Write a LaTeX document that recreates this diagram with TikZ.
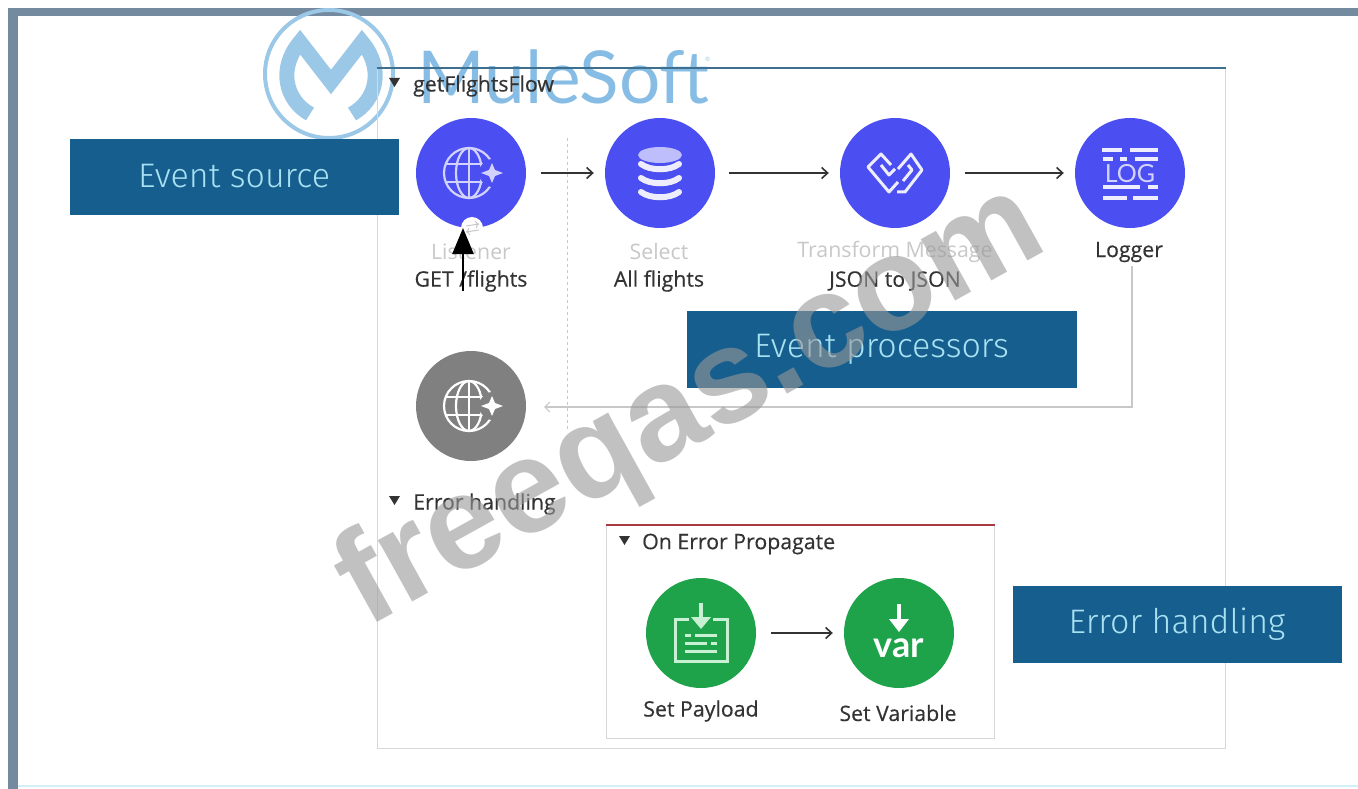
\documentclass[tikz,border=0pt]{standalone}
\usepackage{fontspec}
\setmainfont{Open Sans}
\newfontfamily\labfont[FakeBold=0.4]{Open Sans}
\newfontfamily\logofont{Lato}
\newfontfamily\boxfont{Fira Sans Light}
\newfontfamily\markfont{Liberation Sans}
\usetikzlibrary{arrows.meta,calc}
\definecolor{barc}{HTML}{748A9E}
\definecolor{boxc}{HTML}{155E8E}
\definecolor{boxt}{HTML}{A8E2F2}
\definecolor{purp}{HTML}{4B4EF0}
\definecolor{purpl}{HTML}{D2D2FF}
\definecolor{grn}{HTML}{1FA34A}
\definecolor{grnl}{HTML}{C8F0D2}
\definecolor{gry}{HTML}{808080}
\definecolor{ink}{HTML}{333333}
\definecolor{muted}{HTML}{C8C8C8}
\definecolor{frame}{HTML}{D4D8DA}
\definecolor{flowtop}{HTML}{3F6F8F}
\definecolor{redtop}{HTML}{A83A44}
\definecolor{logol}{HTML}{9CC8E8}
\definecolor{logot}{HTML}{5FA8DC}
\tikzset{
  callout/.style={fill=boxc,draw=boxc,minimum width=328pt,minimum height=75pt,inner sep=0pt,text=boxt,font=\boxfont\fontsize{34}{36}\selectfont},
  proc/.style={circle,fill=purp,minimum size=110pt,inner sep=0pt},
  greyproc/.style={circle,fill=gry,minimum size=110pt,inner sep=0pt},
  setter/.style={circle,fill=grn,minimum size=110pt,inner sep=0pt},
  lab/.style={text=ink,font=\labfont\fontsize{21.3}{23}\selectfont,inner sep=0pt},
  mutedlab/.style={text=muted,font=\fontsize{21.3}{23}\selectfont,inner sep=0pt},
  flow/.style={draw=ink,line width=1.5pt,-{Straight Barb[length=6pt,width=11pt,line width=1.6pt]}},
  globe/.pic={
    \begin{scope}[pic actions,line width=2.2pt]
      \draw (-2,0) circle (25);
      \draw (-2,0) ellipse (13 and 25);
      \draw (-2,-25) -- (-2,25);
      \draw (-25,-9) -- (21,-9);
      \draw (-25,9) -- (21,9);
    \end{scope}
    \fill[pic actions,draw=none] (22,0) circle (14);
  },
}
\begin{document}
\begin{tikzpicture}[x=1pt,y=-1pt]
\useasboundingbox (0,0) rectangle (1358,789);
\fill[white] (0,0) rectangle (1358,789);
\fill[barc] (8,8) rectangle (1358,16);
\fill[barc] (8,8) rectangle (18,789);
\fill[boxt!50] (18,785) rectangle (1358,787);

% logo under the flow
\node[draw=logol,line width=4pt,circle,minimum size=128pt,inner sep=0pt] (logoring) at (329,74) {};
\draw[logol,line width=15pt,line join=miter] (310,114) .. controls (285,100) and (278,68) .. (300,42) -- (331,82) -- (362,42) .. controls (384,68) and (377,100) .. (352,114);
\node[anchor=base west,inner sep=0pt,text=logot,opacity=.75,font=\logofont\fontsize{73}{80}\selectfont] (logotext) at (417,104) {MuleSoft};
\node[anchor=west,inner sep=0pt,text=logol,font=\fontsize{6}{7}\selectfont] (logoreg) at (705,59) {®};

% flow frame
\node[draw=frame,line width=1.2pt,minimum width=848pt,minimum height=680pt,anchor=north west,inner sep=0pt] (flowframe) at (377,68) {};
\draw[flowtop,line width=2pt] (flowframe.north west) -- (flowframe.north east);
\fill[ink] (389,78) -- (400,78) -- (394.5,87) -- cycle;
\node[lab,anchor=west] (flowname) at (413,86) {getFlightsFlow};

% divider
\coordinate (divtop) at (567,138);
\coordinate (divbot) at (567,432);
\draw[muted,line width=1pt,dash pattern=on 3pt off 3pt] (divtop) -- (divbot);

% processors
\node[proc] (listener) at (471,173) {};
\node[proc] (select) at (660,173) {};
\node[proc] (transform) at (895,173) {};
\node[proc] (logger) at (1130,173) {};
\node[greyproc] (response) at (471,406) {};

% listener notch
\node[circle,fill=white,minimum size=22pt,inner sep=0pt] (notch) at (472,228) {};
\draw[muted,line width=1pt,->] (466,226) -- (479,224);
\draw[muted,line width=1pt,->] (479,230) -- (466,232);

% globes
\pic[draw=purpl,fill=purp] at (471,173) {globe};
\fill[purpl] (492,163) -- (495,170) -- (503,173) -- (495,176) -- (492,183) -- (489,176) -- (481,173) -- (489,170) -- cycle;
\pic[draw=white,fill=gry] at (471,406) {globe};
\fill[white] (492,396) -- (495,403) -- (503,406) -- (495,409) -- (492,416) -- (489,409) -- (481,406) -- (489,403) -- cycle;

% database icon
\begin{scope}[shift={(660,173)}]
  \fill[purpl!85!purp] (0,-18) ellipse (22 and 8);
  \foreach \yy in {-5,9,23}{
    \draw[white!90!purp,line width=6pt,line cap=round] (-19,\yy-4) .. controls (-10,\yy+3) and (10,\yy+3) .. (19,\yy-4);
  }
\end{scope}

% transform icon
\begin{scope}[shift={(895,173)},draw=white!90!purp,line width=3pt,line join=round]
  \draw (-4,-8) -- (-14,-19) -- (-27,-6) -- (-6,19) -- (3,9);
  \draw (-14,-8) -- (-6,2) -- (0,-4);
  \draw (2,19) -- (10,19) -- (27,-3) -- (16,-19) -- (3,-4);
  \draw (8,8) -- (17,-3) -- (13,-8);
\end{scope}

% log icon
\begin{scope}[shift={(1130,173)},line width=4pt]
  \foreach \xa/\xb/\yy in {-28/-8/-23,0/28/-23,-27/-17/-14,-10/-3/-14,5/28/-14,-27/10/14,18/28/14,-27/-3/25,3/28/25}{
    \draw[draw=white!90!purp] (\xa,\yy) -- (\xb,\yy);
  }
  \node[inner sep=0pt,text=purpl,font=\logofont\fontsize{25}{26}\selectfont] (logtext) at (0,1) {LOG};
\end{scope}

% setters
\node[setter] (payload) at (701,633) {};
\node[setter] (variable) at (899,633) {};
\begin{scope}[shift={(701,633)},draw=grnl,fill=grnl,line width=3pt]
  \draw (-12,-14) -- (-26,-14) -- (-26,28) -- (26,28) -- (26,-14) -- (12,-14);
  \draw[line width=4pt] (0,-30) -- (0,-14);
  \fill (-10,-16) -- (10,-16) -- (0,-4) -- cycle;
  \draw (-16,2) -- (-10,2) (-6,2) -- (16,2) (-16,10) -- (6,10) (10,10) -- (16,10) (-16,18) -- (16,18);
\end{scope}
\begin{scope}[shift={(899,633)},draw=white,fill=white]
  \draw[line width=4pt] (0,-29) -- (0,-12);
  \fill (-10,-14) -- (10,-14) -- (0,-1) -- cycle;
  \node[inner sep=0pt,text=white,font=\logofont\fontsize{36}{38}\selectfont\bfseries] (vartext) at (0,15) {var};
\end{scope}

% labels
\node[mutedlab] (lblist) at (471,252) {Listener};
\node[lab] (lbget) at (471,281) {GET /flights};
\node[mutedlab] (lbsel) at (659,252) {Select};
\node[lab] (lball) at (659,281) {All flights};
\node[mutedlab] (lbtrans) at (895,252) {Transform Message};
\node[lab] (lbjson) at (895,281) {JSON to JSON};
\node[lab] (lblog) at (1129,252) {Logger};

% connectors
\draw[flow] ($(listener.east)+(15,0)$) -- ($(select.west)+(-11,0)$);
\draw[flow] ($(select.east)+(14,0)$) -- ($(transform.west)+(-11,0)$);
\draw[flow] ($(transform.east)+(15,0)$) -- ($(logger.west)+(-11,0)$);
\coordinate (backb) at (1132,407);
\coordinate (backa) at (1132,266);
\coordinate (backe) at (544,407);
\draw[muted,line width=1.1pt,-{Straight Barb[length=5pt,width=10pt]}] (backa) -- (backb) -- (backe);

% error handling
\fill[ink] (389,496) -- (400,496) -- (394.5,505) -- cycle;
\node[lab,anchor=west] (errname) at (413,504) {Error handling};
\node[draw=frame,line width=1.2pt,minimum width=388pt,minimum height=213pt,anchor=north west,inner sep=0pt] (errframe) at (606,525) {};
\draw[redtop,line width=2pt] (errframe.north west) -- (errframe.north east);
\fill[ink] (619,536) -- (630,536) -- (624.5,545) -- cycle;
\node[lab,anchor=west] (errprop) at (642,544) {On Error Propagate};
\node[lab] (lbpay) at (701,711) {Set Payload};
\node[lab] (lbvar) at (898,713) {Set Variable};
\draw[flow] ($(payload.east)+(15,0)$) -- ($(variable.west)+(-11,0)$);

% callouts
\node[callout] (evsource) at (234,176.5) {\raisebox{-1pt}{Event source}};
\node[callout,minimum width=389pt,minimum height=76pt] (evproc) at (881.5,349) {\raisebox{-3pt}{Event processors}};
\node[callout,minimum height=76pt] (errcall) at (1177,624) {\raisebox{-3pt}{Error handling}};

% pointer
\coordinate (ptrfoot) at (463,291);
\coordinate (ptrtip) at (463,228);
\draw[black,line width=2.5pt,-{Triangle[length=26pt,width=21pt]}] (ptrfoot) -- (ptrtip);

% watermark
\node[inner sep=0pt,rotate=29,text=gray!80,opacity=.6,font=\markfont\fontsize{133}{140}\selectfont\bfseries] (wmark) at (692,408) {freeqas.com};
\end{tikzpicture}
\end{document}
